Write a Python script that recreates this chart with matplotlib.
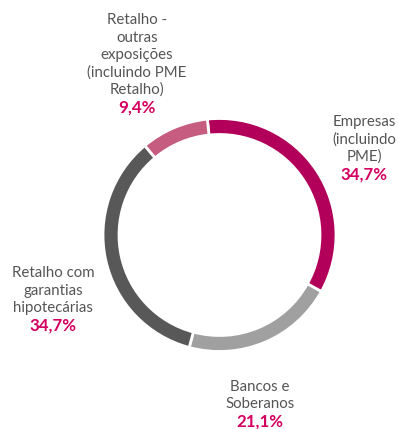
import matplotlib
matplotlib.use("Agg")
import matplotlib.pyplot as plt

# Exposure breakdown by segment
labels = [
    ["Empresas", "(incluindo", "PME)"],
    ["Bancos e", "Soberanos"],
    ["Retalho com", "garantias", "hipotecárias"],
    ["Retalho -", "outras", "exposições", "(incluindo PME", "Retalho)"],
]
shares = [34.7, 21.1, 34.7, 9.4]
colors = ["#b2005a", "#a0a0a0", "#585858", "#c65c80"]

# x centre and first-line y (pixels from top) of each label block
label_pos = [(364, 122), (260, 387), (53, 273), (137, 20)]

TEXT_GREY = "#555555"
PCT_COLOR = "#d4005f"
FONT = "Lato"
LINE_H = 17.5

W, H = 398, 429
fig = plt.figure(figsize=(W / 100, H / 100), dpi=100)
ax = fig.add_axes([0, 0, 1, 1])

cx, cy, r = 219.5, 235, 116.5
ax.pie(shares, colors=colors, startangle=96, counterclock=False,
       center=(cx, H - cy), radius=r,
       wedgeprops=dict(width=16, edgecolor="white", linewidth=2))
ax.set_xlim(0, W)
ax.set_ylim(0, H)
ax.set_aspect("equal")
ax.axis("off")

for lines, pct, (x, y) in zip(labels, shares, label_pos):
    for i, line in enumerate(lines):
        ax.text(x, H - (y + i * LINE_H), line, ha="center", va="center",
                fontsize=10.8, color=TEXT_GREY, family=FONT)
    ax.text(x, H - (y + len(lines) * LINE_H), f"{pct:.1f}%".replace(".", ","),
            ha="center", va="center", fontsize=12.2, color=PCT_COLOR,
            family=FONT, fontweight="bold")

fig.savefig("out.png", dpi=100)
